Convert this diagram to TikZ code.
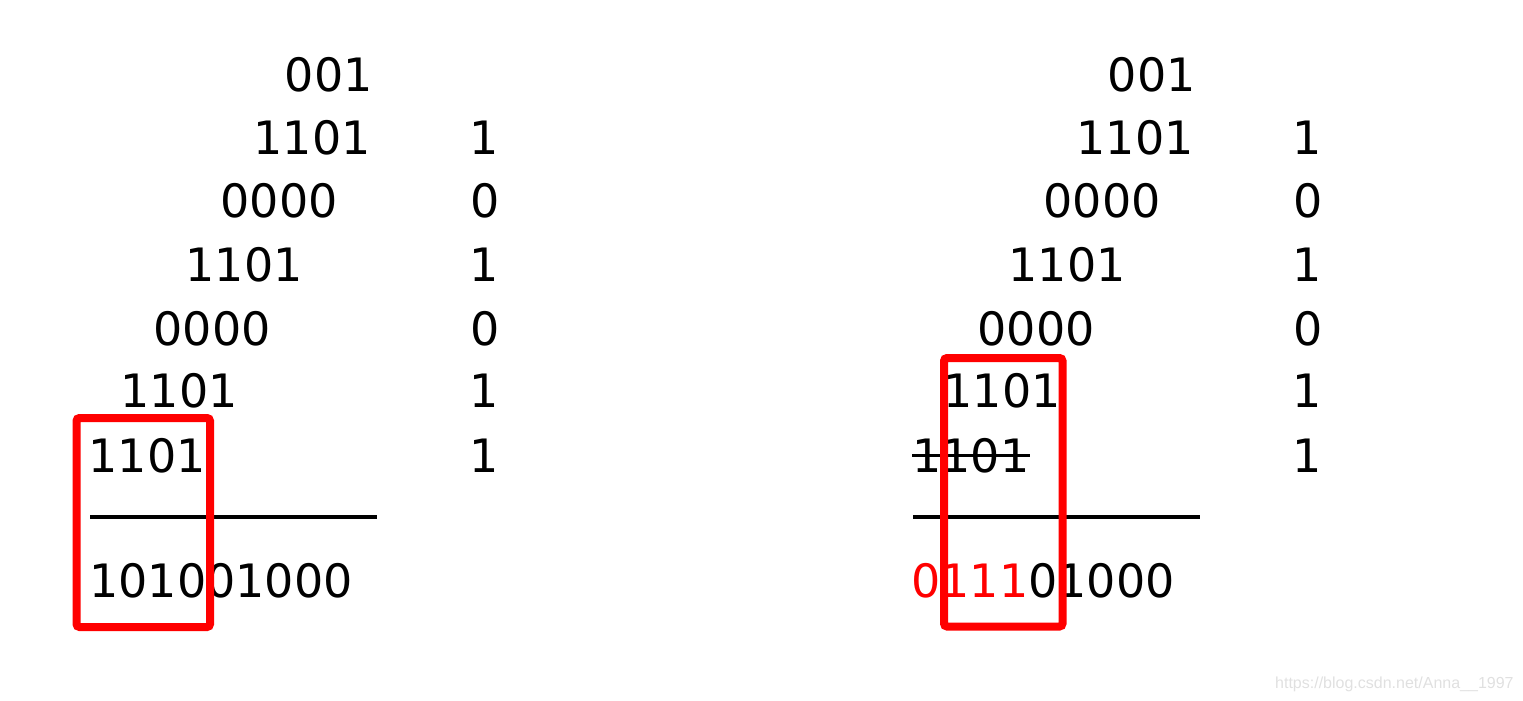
\documentclass[tikz,border=0pt]{standalone}
\usepackage{fontspec}
\newfontfamily\bitfont{DejaVu Sans}
\newfontfamily\markfont{Liberation Sans}
\tikzset{
  bits/.style={font=\bitfont\fontsize{23pt}{28pt}\selectfont, inner sep=0pt},
  rowbits/.style={bits, anchor=base east},
  resbits/.style={bits, anchor=base west},
  rule/.style={line width=2pt},
  redbox/.style={draw=red, line width=4pt, rounded corners=1.5pt},
}
\begin{document}
\begin{tikzpicture}[x=0.5pt,y=-0.5pt]
\useasboundingbox (0,0) rectangle (1523,701);

% left: plain multiplication
\node[rowbits] (lrow0) at (373,92) {001};
\node[rowbits] (lrow1) at (371,155) {1101};
\node[rowbits] (lrow2) at (338,218) {0000};
\node[rowbits] (lrow3) at (303,282) {1101};
\node[rowbits] (lrow4) at (271,345) {0000};
\node[rowbits] (lrow5) at (238,408) {1101};
\node[rowbits] (lrow6) at (206,472) {1101};

\node[rowbits] (lq1) at (499,155) {1};
\node[rowbits] (lq2) at (500,218) {0};
\node[rowbits] (lq3) at (499,282) {1};
\node[rowbits] (lq4) at (500,345) {0};
\node[rowbits] (lq5) at (499,408) {1};
\node[rowbits] (lq6) at (499,472) {1};

\coordinate (lrulea) at (90,517);
\coordinate (lruleb) at (377,517);
\draw[rule] (lrulea) -- (lruleb);

\node[resbits] (lres) at (89,597) {101001000};

\coordinate (lboxa) at (76.5,418);
\coordinate (lboxb) at (210,627);
\draw[redbox] (lboxa) rectangle (lboxb);

% right: last row crossed out
\node[rowbits] (rrow0) at (1196,92) {001};
\node[rowbits] (rrow1) at (1194,155) {1101};
\node[rowbits] (rrow2) at (1161,218) {0000};
\node[rowbits] (rrow3) at (1126,282) {1101};
\node[rowbits] (rrow4) at (1095,345) {0000};
\node[rowbits] (rrow5) at (1061,408) {1101};
\node[resbits] (rrow6) at (912,472) {1101};
\draw[line width=1.5pt] (rrow6.west) -- (rrow6.east);

\node[rowbits] (rq1) at (1322,155) {1};
\node[rowbits] (rq2) at (1323,218) {0};
\node[rowbits] (rq3) at (1322,282) {1};
\node[rowbits] (rq4) at (1323,345) {0};
\node[rowbits] (rq5) at (1322,408) {1};
\node[rowbits] (rq6) at (1322,472) {1};

\coordinate (rrulea) at (913,517);
\coordinate (rruleb) at (1200,517);
\draw[rule] (rrulea) -- (rruleb);

\node[resbits] (rres) at (911,597) {\textcolor{red}{0111}01000};

\coordinate (rboxa) at (944,358);
\coordinate (rboxb) at (1062.5,626.5);
\draw[redbox] (rboxa) rectangle (rboxb);

\node[anchor=base east, inner sep=0pt, text=black!12, font=\markfont\fontsize{8pt}{10pt}\selectfont] (mark) at (1514,688) {https://blog.csdn.net/Anna\_\_1997};

\end{tikzpicture}
\end{document}
